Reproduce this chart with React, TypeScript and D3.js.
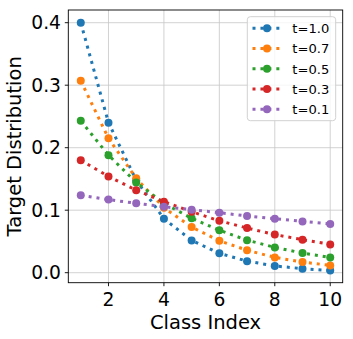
import * as d3 from "d3";

const classIndex = [1, 2, 3, 4, 5, 6, 7, 8, 9, 10];
const seriesNames = ["t=1.0", "t=0.7", "t=0.5", "t=0.3", "t=0.1"];
const t10 = [0.4, 0.24, 0.148, 0.0864, 0.0517, 0.031, 0.0185, 0.0108, 0.0065, 0.0035];
const t07 = [0.307, 0.215, 0.151, 0.104, 0.073, 0.051, 0.036, 0.0245, 0.017, 0.0117];
const t05 = [0.243, 0.188, 0.1445, 0.111, 0.087, 0.068, 0.052, 0.0405, 0.0315, 0.0245];
const t03 = [0.18, 0.154, 0.132, 0.1136, 0.0976, 0.083, 0.0715, 0.061, 0.0528, 0.0453];
const t01 = [0.124, 0.117, 0.111, 0.1056, 0.1008, 0.096, 0.0907, 0.0864, 0.0821, 0.0779];
const seriesValues = [t10, t07, t05, t03, t01];
const colors = ["#1f77b4", "#ff7f0e", "#2ca02c", "#d62728", "#9467bd"];
const xTicks = [2, 4, 6, 8, 10];
const yTicks = [0, 0.1, 0.2, 0.3, 0.4];

export default function App() {
  const width = 353;
  const height = 339;
  const left = 68.3;
  const right = 342.7;
  const top = 10;
  const bottom = 282.7;

  const x = d3.scaleLinear().domain([0.55, 10.45]).range([left, right]);
  const y = d3.scaleLinear().domain([0, 0.4]).range([272.7, 22.7]);

  const line = d3
    .line<number>()
    .x((_, i) => x(classIndex[i]))
    .y((d) => y(d));

  const font = "DejaVu Sans, sans-serif";

  return (
    <svg
      width={width}
      height={height}
      style={{ position: "absolute", left: 0, top: 0 }}
      fontFamily={font}
    >
      <rect x={0} y={0} width={width} height={height} fill="white" />
      {/* grid */}
      <g stroke="#b0b0b0" strokeWidth={0.8} opacity={0.7}>
        {xTicks.map((t) => (
          <line key={"gx" + t} x1={x(t)} x2={x(t)} y1={top} y2={bottom} />
        ))}
        {yTicks.map((t) => (
          <line key={"gy" + t} x1={left} x2={right} y1={y(t)} y2={y(t)} />
        ))}
      </g>
      {/* series */}
      {seriesValues.map((vals, s) => (
        <g key={seriesNames[s]}>
          <path
            d={line(vals) ?? ""}
            fill="none"
            stroke={colors[s]}
            strokeWidth={3}
            strokeDasharray="3 4.95"
          />
          {vals.map((v, i) => (
            <circle key={i} cx={x(classIndex[i])} cy={y(v)} r={4} fill={colors[s]} />
          ))}
        </g>
      ))}
      {/* spines */}
      <rect
        x={left}
        y={top}
        width={right - left}
        height={bottom - top}
        fill="none"
        stroke="#000"
        strokeWidth={0.9}
      />
      {/* x ticks */}
      {xTicks.map((t) => (
        <g key={"xt" + t}>
          <line x1={x(t)} x2={x(t)} y1={bottom} y2={bottom + 3.5} stroke="#000" strokeWidth={0.9} />
          <text x={x(t)} y={306} textAnchor="middle" fontSize={18.7} fill="#000">
            {t}
          </text>
        </g>
      ))}
      {/* y ticks */}
      {yTicks.map((t) => (
        <g key={"yt" + t}>
          <line x1={left - 3.5} x2={left} y1={y(t)} y2={y(t)} stroke="#000" strokeWidth={0.9} />
          <text
            x={61}
            y={y(t)}
            dy="0.36em"
            textAnchor="end"
            fontSize={18.7}
            fill="#000"
          >
            {t.toFixed(1)}
          </text>
        </g>
      ))}
      <text x={(left + right) / 2} y={328.5} textAnchor="middle" fontSize={19.5} fill="#000">
        Class Index
      </text>
      <text
        transform={`translate(21,${(top + bottom) / 2}) rotate(-90)`}
        textAnchor="middle"
        fontSize={19.5}
        fill="#000"
      >
        Target Distribution
      </text>
      {/* legend */}
      <rect
        x={247.3}
        y={16.7}
        width={88.4}
        height={104}
        rx={3}
        fill="white"
        fillOpacity={0.8}
        stroke="#cccccc"
        strokeWidth={0.9}
      />
      {seriesNames.map((name, s) => {
        const ly = 28.3 + s * 20.25;
        return (
          <g key={"lg" + name}>
            <line
              x1={252.5}
              x2={281.5}
              y1={ly}
              y2={ly}
              stroke={colors[s]}
              strokeWidth={3}
              strokeDasharray="3 4.95"
            />
            <circle cx={267} cy={ly} r={4} fill={colors[s]} />
            <text x={292.3} y={ly} dy="0.36em" fontSize={13.1} fill="#000">
              {name}
            </text>
          </g>
        );
      })}
    </svg>
  );
}
